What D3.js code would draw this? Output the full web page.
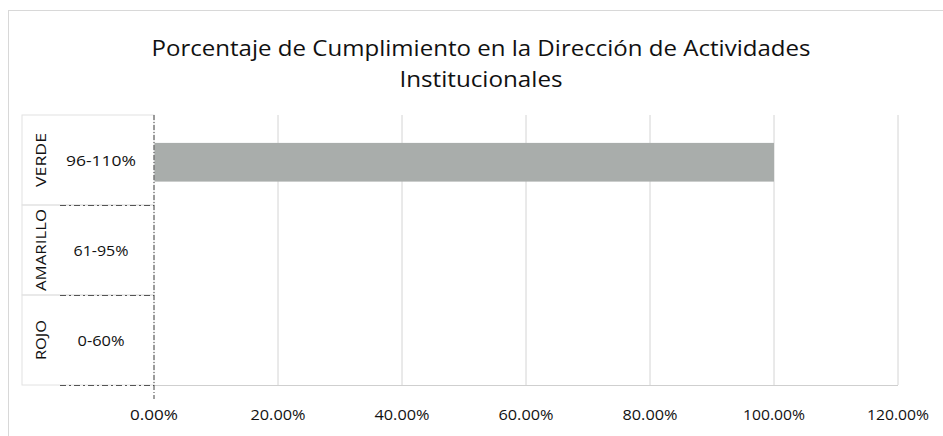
<!DOCTYPE html>
<html><head><meta charset="utf-8">
<script src="https://cdn.jsdelivr.net/npm/d3@7"></script>
<style>body{margin:0;background:#fff}svg{display:block}text{font-family:"Open Sans",sans-serif;fill:#111}</style>
</head><body>
<svg id="c" width="943" height="436"></svg>
<script>
const title = ["Porcentaje de Cumplimiento en la Dirección de Actividades", "Institucionales"];
const groups = ["VERDE", "AMARILLO", "ROJO"];
const categories = ["96-110%", "61-95%", "0-60%"];
const values = [1.0, 0, 0];
const ticks = [0, 0.2, 0.4, 0.6, 0.8, 1.0, 1.2];

const svg = d3.select("#c");
// frame
svg.append("rect").attr("x",8.5).attr("y",10.5).attr("width",940).attr("height",430)
  .attr("fill","none").attr("stroke","#d8d8d8");

const m = {left:154, right:898, top:115, bottom:385};
const x = d3.scaleLinear().domain([0,1.2]).range([m.left,m.right]);
const y = d3.scaleBand().domain(categories).range([m.top,m.bottom]).paddingInner(0).paddingOuter(0);

// title
svg.selectAll("text.title").data(title).join("text")
  .attr("class","title").attr("x",481).attr("y",(d,i)=>56+i*31)
  .attr("text-anchor","middle").style("font-size","22px")
  .attr("textLength",(d,i)=>i===0?659:163).attr("lengthAdjust","spacingAndGlyphs")
  .text(d=>d);

// gridlines
svg.append("g").selectAll("line").data(ticks.slice(1)).join("line")
  .attr("x1",d=>x(d)).attr("x2",d=>x(d)).attr("y1",m.top).attr("y2",m.bottom)
  .attr("stroke","#d4d4d4").attr("stroke-width",1);
svg.append("line").attr("x1",m.left).attr("x2",m.right).attr("y1",m.bottom+0.5).attr("y2",m.bottom+0.5)
  .attr("stroke","#cfcfcf");

// bars
svg.append("g").selectAll("rect").data(values).join("rect")
  .attr("x",x(0)).attr("width",d=>x(d)-x(0))
  .attr("y",(d,i)=>y(categories[i])+y.bandwidth()*0.31)
  .attr("height",y.bandwidth()*0.43)
  .attr("fill","#a9adab");

// category boxes on the left
const boxLeft = 22;
svg.append("g").selectAll("rect").data(categories).join("rect")
  .attr("x",boxLeft).attr("y",d=>y(d)).attr("width",m.left-boxLeft).attr("height",y.bandwidth())
  .attr("fill","none").attr("stroke","#e2e2e2");
svg.append("g").selectAll("line").data(categories.slice(1).concat(["end"])).join("line")
  .attr("x1",boxLeft+38).attr("x2",m.left)
  .attr("y1",(d,i)=>i<2?y(d)+0.5:m.bottom+0.5).attr("y2",(d,i)=>i<2?y(d)+0.5:m.bottom+0.5)
  .attr("stroke","#555").attr("stroke-dasharray","6,3,2,3").attr("stroke-width",1);

// y axis (dashed)
svg.append("line").attr("x1",m.left).attr("x2",m.left).attr("y1",m.top).attr("y2",m.bottom+14)
  .attr("stroke","#444").attr("stroke-dasharray","5,2,1,2");

// category labels
svg.append("g").selectAll("text").data(categories).join("text")
  .attr("x",101).attr("y",d=>y(d)+y.bandwidth()/2+6)
  .attr("text-anchor","middle").style("font-size","15px")
  .attr("textLength",(d,i)=>i===0?70:i===1?55:47).attr("lengthAdjust","spacingAndGlyphs")
  .text(d=>d);
// group labels (rotated)
svg.append("g").selectAll("text").data(groups).join("text")
  .attr("transform",(d,i)=>`translate(40,${y(categories[i])+y.bandwidth()/2}) rotate(-90)`)
  .attr("y",6).attr("text-anchor","middle").style("font-size","15px")
  .attr("textLength",(d,i)=>i===0?54:i===1?82:40).attr("lengthAdjust","spacingAndGlyphs")
  .text(d=>d);

// x tick labels
svg.append("g").selectAll("text").data(ticks).join("text")
  .attr("x",d=>x(d)).attr("y",420).attr("text-anchor","middle").style("font-size","15px")
  .attr("textLength",d=>d>=1?62:d===0?48:55).attr("lengthAdjust","spacingAndGlyphs")
  .text(d=>d3.format(".2%")(d));
</script>
</body></html>
